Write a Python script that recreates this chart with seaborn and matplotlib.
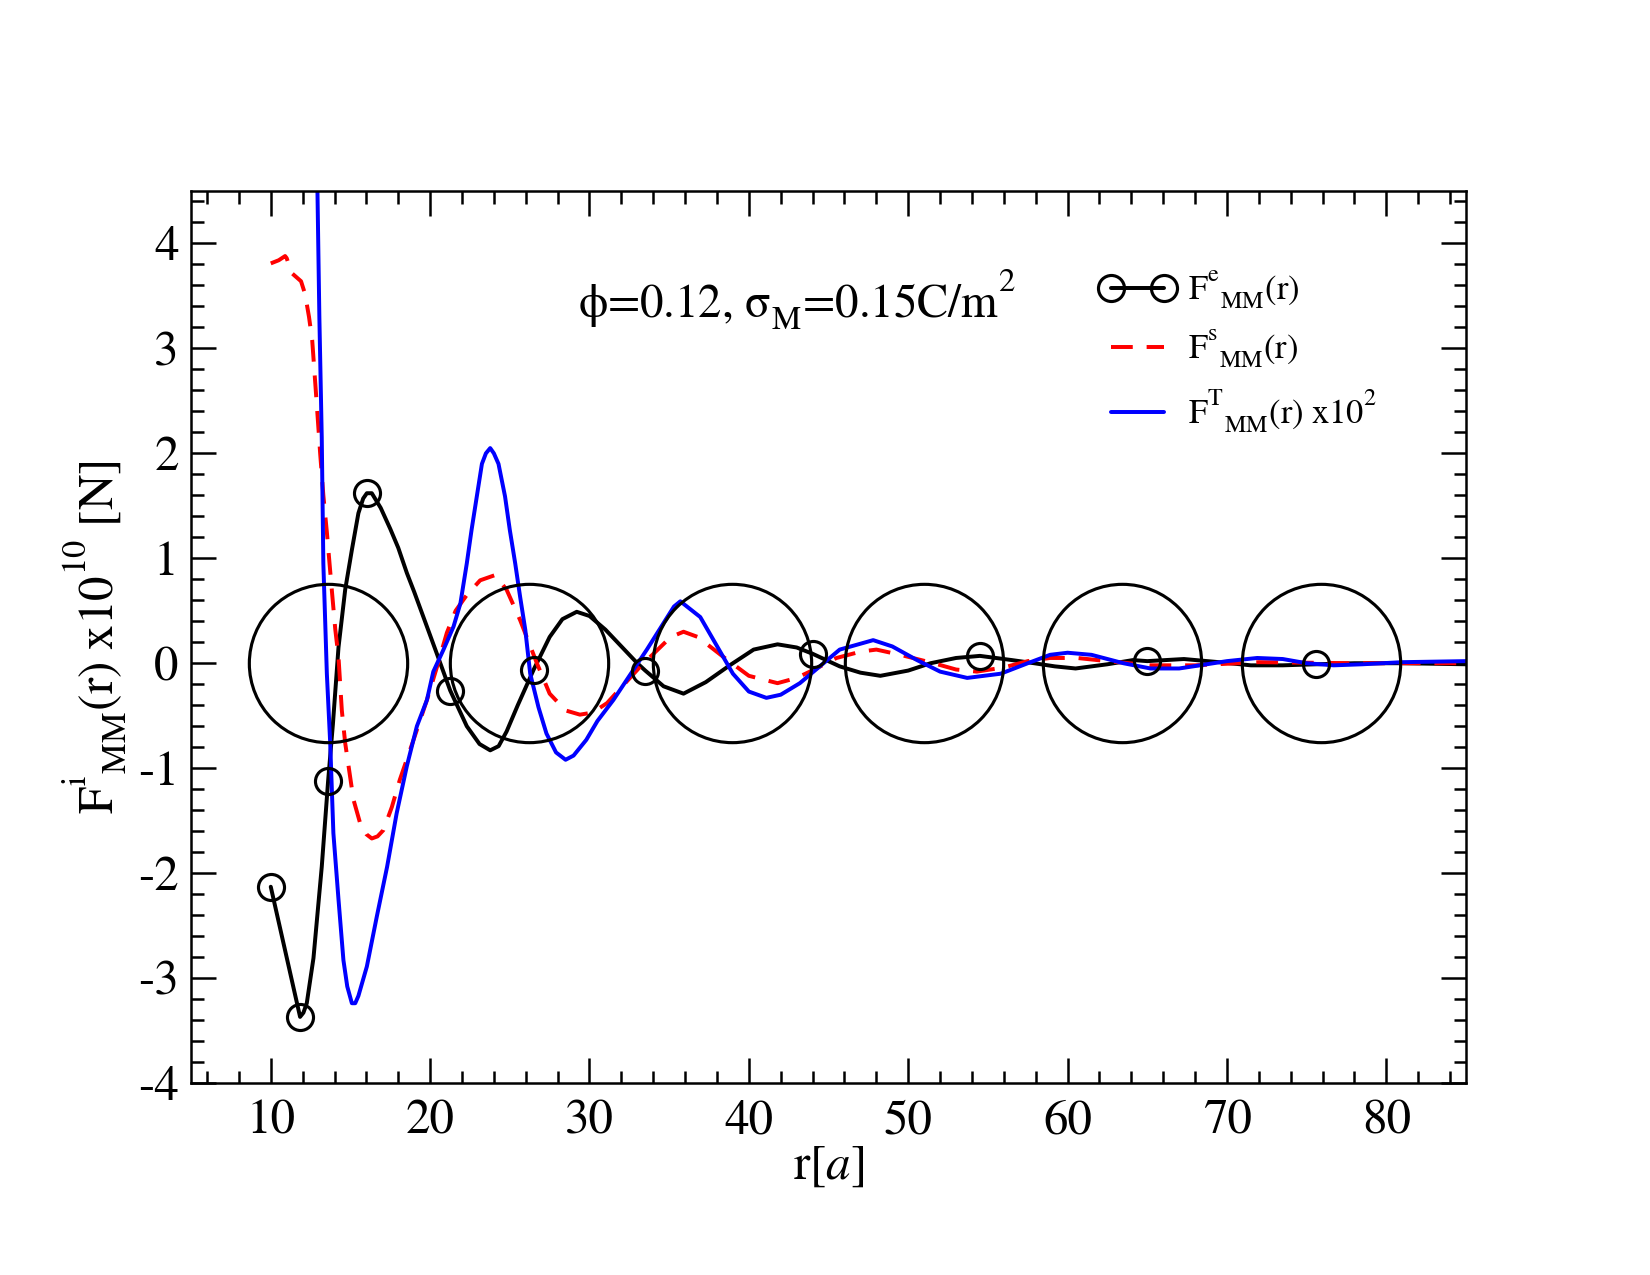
import numpy as np
import pandas as pd
import matplotlib
matplotlib.use("Agg")
import matplotlib.pyplot as plt
from matplotlib.lines import Line2D
from matplotlib.ticker import MultipleLocator
import matplotlib._mathtext as _mt
import seaborn as sns

# ---------------- data ----------------
# F^e_MM(r): black line
e_r = [10.0, 11.84, 12.05, 12.26, 12.68, 13.2, 13.6, 13.9, 14.25, 14.67, 15.09, 15.5, 15.8,
       16.03, 16.34, 16.9, 17.5, 18.0, 18.54, 19.0, 19.58, 20.4, 21.26, 22.3, 23.1, 23.77,
       24.3, 24.8, 25.5, 26.5, 27.5, 28.3, 29.2, 30.0, 31.0, 32.0, 33.0, 33.5, 34.65, 35.9,
       37.3, 38.8, 40.3, 41.8, 43.0, 44.0, 45.7, 47.0, 48.25, 50.0, 51.4, 53.0, 54.5, 56.5,
       57.9, 59.2, 60.5, 62.5, 64.1, 65.0, 67.3, 69.5, 71.5, 73.5, 75.6, 78.0, 81.0, 85.0]
e_F = [-2.13, -3.37, -3.33, -3.24, -2.81, -1.94, -1.12, -0.58, 0.15, 0.70, 1.08, 1.43, 1.57,
       1.62, 1.62, 1.48, 1.28, 1.10, 0.86, 0.68, 0.44, 0.10, -0.26, -0.60, -0.77, -0.83,
       -0.79, -0.65, -0.40, -0.06, 0.25, 0.42, 0.49, 0.45, 0.32, 0.16, 0.00, -0.07, -0.22, -0.29,
       -0.18, -0.02, 0.13, 0.18, 0.15, 0.09, -0.03, -0.09, -0.12, -0.07, 0.00, 0.05, 0.07, 0.03,
       0.00, -0.03, -0.05, -0.01, 0.03, 0.02, 0.04, 0.01, -0.02, -0.02, -0.01, 0.00, 0.00, -0.01]
# markers on F^e
e_mark_r = [10.0, 11.84, 13.6, 16.03, 21.26, 26.5, 33.5, 44.0, 54.5, 65.0, 75.6]
e_mark_F = [-2.13, -3.37, -1.12, 1.62, -0.26, -0.06, -0.07, 0.09, 0.07, 0.02, -0.01]

# F^s_MM(r): red dashed
s_r = [10.0, 10.5, 10.9, 11.0, 11.3, 11.6, 11.9, 12.15, 12.4, 12.6, 12.9, 13.1, 13.3, 13.52,
       13.83, 14.05, 14.25, 14.46, 14.67, 15.19, 15.6, 16.0, 16.34, 16.7, 17.07, 17.6, 18.1,
       18.96, 19.8, 20.5, 21.05, 21.6, 22.3, 23.14, 24.08, 24.8, 25.65, 26.7, 27.5, 28.5, 29.4,
       30.2, 31.1, 33.2, 35.1, 35.9, 36.8, 38.4, 40.0, 41.8, 43.0, 44.1, 45.5, 47.0, 48.0, 49.5,
       51.6, 53.0, 54.3, 56.0, 57.5, 58.9, 60.6, 62.5, 65.2, 68.0, 72.0, 78.0, 85.0]
s_F = [3.81, 3.84, 3.88, 3.86, 3.72, 3.68, 3.64, 3.52, 3.30, 3.08, 2.44, 2.00, 1.60, 1.25,
       0.70, 0.32, 0.06, -0.45, -0.76, -1.30, -1.52, -1.63, -1.67, -1.65, -1.59, -1.37, -1.11,
       -0.73, -0.35, 0.00, 0.29, 0.50, 0.65, 0.79, 0.84, 0.70, 0.41, 0.00, -0.29, -0.45, -0.49,
       -0.47, -0.38, -0.03, 0.25, 0.30, 0.25, 0.06, -0.12, -0.19, -0.14, -0.06, 0.05, 0.11, 0.13,
       0.08, 0.00, -0.06, -0.08, -0.04, 0.02, 0.05, 0.05, 0.02, -0.02, -0.02, 0.01, 0.00, 0.00]

# F^T_MM(r) x10^2: blue
t_r = [12.85, 12.93, 13.05, 13.2, 13.3, 13.52, 13.73, 13.93, 14.25, 14.56, 14.8, 15.09, 15.3,
       15.5, 16.03, 16.66, 17.3, 17.9, 18.54, 19.17, 19.8, 20.2, 20.84, 21.47, 21.9, 22.3, 22.6,
       22.93, 23.25, 23.5, 23.77, 24.0, 24.29, 24.7, 25.0, 25.34, 25.65, 25.97, 26.28, 26.8,
       27.3, 27.9, 28.5, 29.0, 29.8, 30.5, 31.5, 33.6, 35.3, 35.7, 36.95, 39.0, 40.0, 41.1,
       42.0, 43.2, 45.7, 47.8, 49.0, 50.55, 52.0, 53.7, 55.8, 57.5, 58.9, 60.0, 61.5, 63.5,
       65.2, 67.0, 68.3, 70.0, 71.9, 73.5, 75.0, 76.7, 78.5, 81.0, 85.0]
t_F = [5.20, 4.50, 3.30, 2.15, 0.95, -0.10, -0.76, -1.62, -2.25, -2.83, -3.08, -3.24, -3.24,
       -3.17, -2.89, -2.41, -1.94, -1.43, -0.98, -0.60, -0.35, -0.08, 0.13, 0.35, 0.57, 0.95, 1.27,
       1.59, 1.90, 2.00, 2.05, 2.00, 1.90, 1.59, 1.27, 0.95, 0.63, 0.32, -0.10, -0.42,
       -0.67, -0.85, -0.92, -0.88, -0.73, -0.55, -0.35, 0.13, 0.54, 0.59, 0.44, -0.10, -0.27, -0.33,
       -0.30, -0.19, 0.13, 0.22, 0.16, 0.03, -0.08, -0.14, -0.10, 0.00, 0.08, 0.10, 0.08, 0.00,
       -0.05, -0.05, -0.02, 0.02, 0.05, 0.04, 0.00, -0.02, -0.01, 0.01, 0.02]

# big circles (particles) centred on the axis
particle_r = [13.62, 26.23, 38.94, 50.97, 63.4, 75.9]
particle_F = [0, 0, 0, 0, 0, 0]

x_ticks = [10, 20, 30, 40, 50, 60, 70, 80]
y_ticks = [-4, -3, -2, -1, 0, 1, 2, 3, 4]

labels = [r"F$^{\rm e}$$_{\rm MM}$(r)", r"F$^{\rm s}$$_{\rm MM}$(r)",
          r"F$^{\rm T}$$_{\rm MM}$(r) x10$^{2}$"]

# ---------------- style ----------------
sns.set_theme(style="ticks")
plt.rcParams["font.family"] = ["STIXGeneral", "DejaVu Sans"]
plt.rcParams["mathtext.fontset"] = "stix"
plt.rcParams["axes.unicode_minus"] = False
for k in ["text.color", "axes.labelcolor", "xtick.color", "ytick.color", "axes.edgecolor"]:
    plt.rcParams[k] = "black"
# Grace-like super/subscript offsets
_mt.STIXFontConstants.sup1 = 1.25
_mt.STIXFontConstants.sub1 = 0.6

fig = plt.figure(figsize=(11, 8.5), dpi=150)
ax = fig.add_axes([0.1158, 0.1506, 0.7727, 0.6996])

LW = 1.9
sns.lineplot(x=e_r, y=e_F, ax=ax, color="black", lw=LW, sort=False, estimator=None)
sns.lineplot(x=s_r, y=s_F, ax=ax, color="#ff0000", lw=LW, sort=False, estimator=None)
ax.lines[-1].set_dashes((5.5, 3.5))
sns.lineplot(x=t_r, y=t_F, ax=ax, color="#0000ff", lw=LW, sort=False, estimator=None)
ax.plot(e_mark_r, e_mark_F, ls="none", marker="o", ms=12.5, mfc="none", mec="black", mew=1.5)
ax.plot(particle_r, particle_F, ls="none", marker="o", ms=76, mfc="none", mec="black", mew=1.5)

ax.set_xlim(5, 85)
ax.set_ylim(-4, 4.5)
ax.set_xticks(x_ticks)
ax.set_yticks(y_ticks)
ax.xaxis.set_minor_locator(MultipleLocator(2))
ax.yaxis.set_minor_locator(MultipleLocator(0.2))
ax.tick_params(which="both", direction="in", top=True, right=True, width=1.2, color="black")
ax.tick_params(which="major", length=12, labelsize=23.5)
ax.tick_params(axis="x", which="major", pad=8)
ax.tick_params(axis="y", which="major", pad=6)
ax.tick_params(which="minor", length=6)
for sp in ax.spines.values():
    sp.set_linewidth(1.2)
    sp.set_color("black")
ax.grid(False)

ax.set_xlabel(r"r[$a$]", fontsize=23.5, labelpad=0)
ax.set_ylabel(r"F$^{\rm i}$$_{\rm MM}$(r) x10$^{10}$ [N]", fontsize=23.5, labelpad=4)

ax.text(29.3, 3.3, r"ϕ=0.12, σ$_{\rm M}$=0.15C/m$^{2}$", fontsize=22.5, va="baseline", ha="left")

handles = [
    Line2D([], [], color="black", lw=LW, marker="o", ms=12.5, mfc="none", mew=1.5),
    Line2D([], [], color="#ff0000", lw=LW, dashes=(5.5, 3.5)),
    Line2D([], [], color="#0000ff", lw=LW),
]
ax.legend(handles, labels, loc="upper left", bbox_to_anchor=(0.70, 0.933), frameon=False,
          fontsize=16.5, handlelength=2.15, handletextpad=0.4, labelspacing=0.48, numpoints=2,
          borderpad=0)

fig.savefig("out.png", dpi=150, facecolor="white")
